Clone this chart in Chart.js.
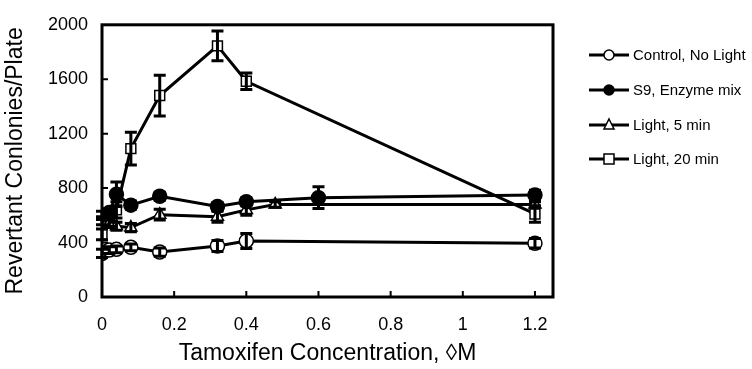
<!DOCTYPE html>
<html>
<head>
<meta charset="utf-8">
<script src="https://cdn.jsdelivr.net/npm/chart.js@4.4.1/dist/chart.umd.min.js"></script>
<style>
  html, body { margin: 0; padding: 0; background: #fff; }
  #wrap { width: 752px; height: 369px; }
</style>
</head>
<body>
<div id="wrap"><canvas id="chart" width="752" height="369"></canvas></div>
<script>
// series names / legend text
const seriesNames = ['Control, No Light', 'S9, Enzyme mix', 'Light, 5 min', 'Light, 20 min'];

// Control, No Light (open circles)
const xControl = [0, 0.02, 0.04, 0.08, 0.16, 0.32, 0.4, 1.2];
const yControl = [320, 345, 350, 365, 330, 375, 412, 395];
const eControl = [30, 25, 25, 25, 30, 40, 55, 35];

// S9, Enzyme mix (filled circles)
const xS9 = [0, 0.02, 0.04, 0.08, 0.16, 0.32, 0.4, 0.6, 1.2];
const yS9 = [600, 620, 755, 675, 740, 665, 700, 730, 750];
const eS9 = [30, 30, 90, 30, 30, 30, 30, 80, 35];

// Light, 5 min (open triangles)
const xLight5 = [0, 0.02, 0.04, 0.08, 0.16, 0.32, 0.4, 0.48, 1.2];
const yLight5 = [560, 540, 520, 510, 605, 590, 640, 680, 680];
const eLight5 = [30, 30, 30, 30, 40, 40, 40, 20, 20];

// Light, 20 min (open squares)
const xLight20 = [0, 0.02, 0.04, 0.08, 0.16, 0.32, 0.4, 1.2];
const yLight20 = [460, 560, 640, 1090, 1480, 1845, 1585, 610];
const eLight20 = [40, 40, 60, 120, 150, 110, 60, 60];

const xTicks = [0, 0.2, 0.4, 0.6, 0.8, 1, 1.2];
const yTicks = [0, 400, 800, 1200, 1600, 2000];

const FONT = "'Liberation Sans', Arial, sans-serif";

const toPoints = (xs, ys) => xs.map((x, i) => ({ x, y: ys[i] }));

const series = [
  { x: xControl, y: yControl, e: eControl, style: 'circle', fill: '#fff' },
  { x: xS9, y: yS9, e: eS9, style: 'circle', fill: '#000' },
  { x: xLight5, y: yLight5, e: eLight5, style: 'triangle', fill: '#fff' },
  { x: xLight20, y: yLight20, e: eLight20, style: 'rect', fill: '#fff' },
];

// error bars drawn over markers, as in the original
const errorBars = {
  id: 'errorBars',
  afterDatasetsDraw(chart) {
    const { ctx } = chart;
    const xs = chart.scales.x;
    const ys = chart.scales.y;
    ctx.save();
    ctx.strokeStyle = '#000';
    ctx.lineWidth = 3;
    series.forEach((s) => {
      s.x.forEach((xv, i) => {
        const px = xs.getPixelForValue(xv);
        const top = ys.getPixelForValue(s.y[i] + s.e[i]);
        const bot = ys.getPixelForValue(s.y[i] - s.e[i]);
        ctx.beginPath();
        ctx.moveTo(px, top);
        ctx.lineTo(px, bot);
        ctx.moveTo(px - 6, top);
        ctx.lineTo(px + 6, top);
        ctx.moveTo(px - 6, bot);
        ctx.lineTo(px + 6, bot);
        ctx.stroke();
      });
    });
    ctx.restore();
  },
};

// box round the plot, inward ticks and the legend
const frame = {
  id: 'frame',
  afterDraw(chart) {
    const { ctx, chartArea } = chart;
    const xs = chart.scales.x;
    const ys = chart.scales.y;
    ctx.save();
    ctx.strokeStyle = '#000';
    ctx.lineWidth = 3;
    ctx.strokeRect(chartArea.left, chartArea.top, chartArea.right - chartArea.left, chartArea.bottom - chartArea.top);
    ctx.lineWidth = 2;
    ctx.beginPath();
    xTicks.forEach((t) => {
      if (t === 0) return;
      const px = xs.getPixelForValue(t);
      ctx.moveTo(px, chartArea.bottom);
      ctx.lineTo(px, chartArea.bottom - 6);
    });
    yTicks.forEach((t) => {
      if (t === 0 || t === 2000) return;
      const py = ys.getPixelForValue(t);
      ctx.moveTo(chartArea.left, py);
      ctx.lineTo(chartArea.left + 6, py);
    });
    ctx.stroke();

    // legend
    const lx = 589;
    const rows = [55, 90, 125, 159];
    ctx.font = `15px ${FONT}`;
    ctx.textBaseline = 'middle';
    series.forEach((s, i) => {
      const y = rows[i];
      ctx.lineWidth = 3;
      ctx.beginPath();
      ctx.moveTo(lx, y);
      ctx.lineTo(lx + 40, y);
      ctx.stroke();
      ctx.lineWidth = 1.5;
      ctx.fillStyle = s.fill;
      ctx.beginPath();
      if (s.style === 'circle') {
        ctx.arc(lx + 20, y, 5, 0, Math.PI * 2);
      } else if (s.style === 'triangle') {
        ctx.moveTo(lx + 20, y - 6);
        ctx.lineTo(lx + 25, y + 4);
        ctx.lineTo(lx + 15, y + 4);
        ctx.closePath();
      } else {
        ctx.rect(lx + 15, y - 5, 10, 10);
      }
      ctx.fill();
      ctx.stroke();
      ctx.fillStyle = '#000';
      ctx.fillText(seriesNames[i], lx + 44, y + 1);
    });
    ctx.restore();
  },
};

new Chart(document.getElementById('chart'), {
  type: 'line',
  data: {
    datasets: series.map((s, i) => ({
      label: seriesNames[i],
      data: toPoints(s.x, s.y),
      borderColor: '#000',
      borderWidth: 3,
      backgroundColor: s.fill,
      pointStyle: s.style,
      pointRadius: 7,
      pointBorderWidth: 1.5,
      pointBorderColor: '#000',
      pointBackgroundColor: s.fill,
      tension: 0,
    })),
  },
  options: {
    responsive: false,
    animation: false,
    layout: { padding: { left: 0, right: 199, top: 13, bottom: 0 } },
    plugins: {
      legend: { display: false },
      tooltip: { enabled: false },
    },
    scales: {
      x: {
        type: 'linear',
        min: 0,
        max: 1.25,
        afterBuildTicks: (axis) => {
          axis.ticks = xTicks.map((v) => ({ value: v }));
        },
        afterFit: (axis) => {
          axis.height = 72;
        },
        grid: { display: false, drawTicks: false },
        border: { display: false },
        ticks: {
          color: '#000',
          padding: 17,
          maxRotation: 0,
          font: { family: FONT, size: 18 },
          callback: (v) => String(v),
        },
        title: {
          display: true,
          text: 'Tamoxifen Concentration, \u25CAM',
          color: '#000',
          font: { family: FONT, size: 23 },
          padding: { top: 0, bottom: 2 },
        },
      },
      y: {
        min: 0,
        max: 2000,
        afterBuildTicks: (axis) => {
          axis.ticks = yTicks.map((v) => ({ value: v }));
        },
        afterFit: (axis) => {
          axis.width = 102;
        },
        grid: { display: false, drawTicks: false },
        border: { display: false },
        ticks: {
          color: '#000',
          padding: 14,
          font: { family: FONT, size: 18 },
          callback: (v) => String(v),
        },
        title: {
          display: true,
          text: 'Revertant Conlonies/Plate',
          color: '#000',
          font: { family: FONT, size: 23 },
          padding: { top: 2, bottom: 0 },
        },
      },
    },
  },
  plugins: [errorBars, frame],
});
</script>
</body>
</html>
